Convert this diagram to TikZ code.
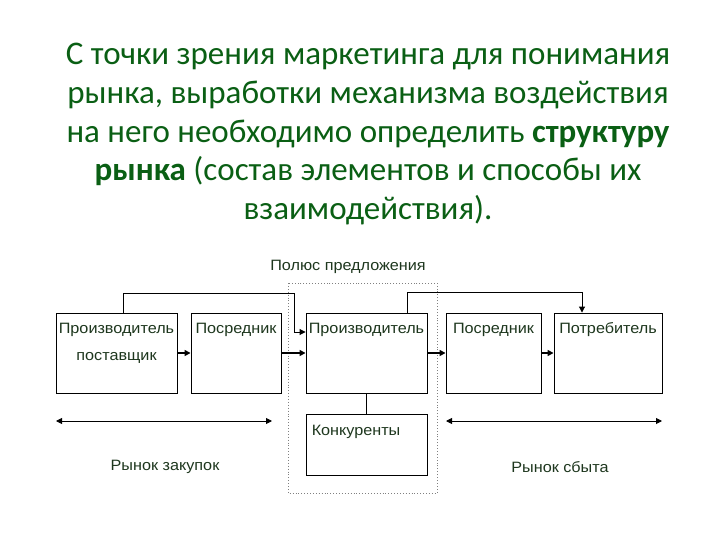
\documentclass[tikz,border=0pt]{standalone}
\usepackage{fontspec}
\setmainfont{Carlito}
\newfontfamily\arialfont[FakeStretch=1.08]{Liberation Sans}
\usetikzlibrary{arrows.meta,positioning}
\definecolor{titlegreen}{RGB}{10,95,20}
\definecolor{labelink}{RGB}{30,55,30}
\tikzset{
  market box/.style={
    draw=black, line width=0.9pt, inner sep=0pt,
    minimum width=#1, minimum height=80pt
  },
  box label/.style={
    inner sep=0pt, text=labelink,
    font=\arialfont\fontsize{15}{17}\selectfont
  },
  title text/.style={
    align=center, text=titlegreen,
    font=\fontsize{33}{38.5}\selectfont
  },
  flow arrow/.style={
    -{Triangle[length=6pt,width=6pt]}, line width=1.8pt
  },
  link arrow/.style={
    -{Triangle[length=6pt,width=6pt]}, line width=0.9pt
  },
  span arrow/.style={
    {Triangle[length=6pt,width=6pt]}-{Triangle[length=6pt,width=6pt]},
    line width=0.9pt
  },
  pole frame/.style={
    draw=gray, dotted, line width=0.9pt
  },
}

\begin{document}
\begin{tikzpicture}[x=1pt, y=-1pt]

  \fill[white] (0,0) rectangle (720,540);
  \useasboundingbox (0,0) rectangle (720,540);

  % Title
  \node[title text] (title) at (368,134)
    {С точки зрения маркетинга для понимания\\
     рынка, выработки механизма воздействия\\
     на него необходимо определить \textbf{структуру}\\
     \textbf{рынка} (состав элементов и способы их\\
     взаимодействия).};

  % Supply pole frame
  \draw[pole frame] (288,283) rectangle (437,493);
  \node[box label] (pole) at (348,267) {Полюс предложения};

  % Chain of market participants
  \node[market box=121pt] (supplier) at (116.5,353) {};
  \node[market box=90pt]  (agent1)   at (236,353)   {};
  \node[market box=121pt] (maker)    at (366.5,353) {};
  \node[market box=95pt]  (agent2)   at (493.5,353) {};
  \node[market box=108pt] (buyer)    at (608,353)   {};
  \node[market box=121pt, minimum height=61pt] (rivals) at (366.5,444.5) {};

  \node[box label, below=10pt of supplier.north] (supplier lbl) {Производитель};
  \node[box label, below=16pt of supplier lbl] {поставщик};
  \node[box label, below=10pt of agent1.north] {Посредник};
  \node[box label, below=10pt of maker.north] {Производитель};
  \node[box label, below=10pt of agent2.north] {Посредник};
  \node[box label, below=10pt of buyer.north] {Потребитель};
  \node[box label, anchor=north west] at ([xshift=6pt,yshift=-11pt]rivals.north west) {Конкуренты};

  % Flows along the chain
  \draw[flow arrow] (supplier.east) -- (agent1.west);
  \draw[flow arrow] (agent1.east) -- (maker.west);
  \draw[flow arrow] (maker.east) -- (agent2.west);
  \draw[flow arrow] (agent2.east) -- (buyer.west);

  % Bypass links
  \draw[link arrow] ([xshift=6.5pt]supplier.north) |- (294,293)
    -- (294,332) -- ([yshift=21pt]maker.west);
  \draw[link arrow] ([xshift=40.5pt]maker.north)
    |- ([xshift=-26pt,yshift=20pt]buyer.north) -- ([xshift=-26pt]buyer.north);
  \draw[line width=0.9pt] (maker.south) -- (rivals.north);

  % Markets
  \coordinate (buy l)  at (56,421);
  \coordinate (buy r)  at (272,421);
  \coordinate (sell l) at (446,421);
  \coordinate (sell r) at (662,421);
  \draw[span arrow] (buy l) -- (buy r);
  \draw[span arrow] (sell l) -- (sell r);
  \node[box label] (buy lbl)  at (165,467) {Рынок закупок};
  \node[box label] (sell lbl) at (560,467) {Рынок сбыта};

\end{tikzpicture}
\end{document}
